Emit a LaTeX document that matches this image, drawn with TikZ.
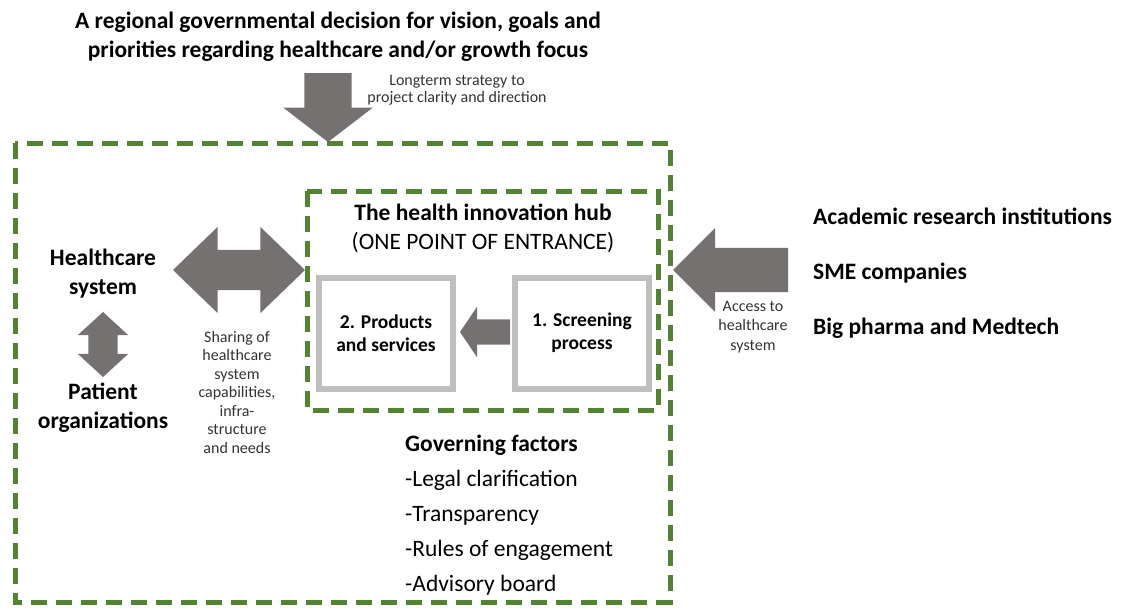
\documentclass[tikz,border=0pt]{standalone}
\usepackage{fontspec}
\setmainfont{Carlito}
\usetikzlibrary{shapes.arrows}
\definecolor{arrowgray}{HTML}{767171}
\definecolor{hubgreen}{HTML}{548235}
\definecolor{boxgray}{HTML}{BFBFBF}
\tikzset{
	bigbold/.style={font=\fontsize{23.5}{29}\selectfont\bfseries,align=center,inner sep=0pt},
	bigtext/.style={font=\fontsize{23.5}{29}\selectfont,align=center,inner sep=0pt},
	smalltext/.style={font=\fontsize{16}{18.5}\selectfont,align=center,inner sep=0pt,text=black!80},
	blockarrow/.style={fill=arrowgray,inner xsep=0pt,outer sep=0pt},
	hubdash/.style={draw=hubgreen,line width=5pt,dash pattern=on 16pt off 9pt},
	graybox/.style={draw=boxgray,line width=6pt,minimum width=134pt,minimum height=111pt,
		font=\fontsize{19.5}{23}\selectfont\bfseries,align=center}
}
\begin{document}
\begin{tikzpicture}[x=1pt,y=-1pt]
		\useasboundingbox (0,0) rectangle (1125,608);
		% dashed frames
		\draw[hubdash] (15,143) rectangle (670,602);
		\draw[hubdash] (307,191) rectangle (658,410);
		% title and strategy arrow
		\node (decision) at(338,37)[bigbold]{A regional governmental decision for vision, goals and\\priorities regarding healthcare and/or growth focus};
		\node (strategy) at(457,90)[smalltext,font=\fontsize{16}{17}\selectfont]{Longterm strategy to\\project clarity and direction};
		\node (down)[blockarrow,single arrow,rotate=-90,anchor=tip,inner ysep=23.5pt,minimum height=69pt,minimum width=89pt,
			single arrow head extend=21pt,single arrow tip angle=105] at(328,142){};
		% healthcare side
		\node (healthcare) at(103,274)[bigbold]{Healthcare\\system};
		\node (patients) at(103,408)[bigbold]{Patient\\organizations};
		\node (updown)[blockarrow,double arrow,rotate=90,inner ysep=14.5pt,minimum height=65pt,
			double arrow head extend=10.5pt,double arrow tip angle=95] at(103,344.5){};
		\node (share)[blockarrow,double arrow,inner ysep=20pt,minimum height=132pt,
			double arrow head extend=23pt,double arrow tip angle=88] at(239,270){};
		\node (sharing) at(237,392)[smalltext]{Sharing of\\healthcare\\system\\capabilities,\\infra-\\structure\\and needs};
		% hub
		\node (hub) at(483,228)[bigtext]{\textbf{The health innovation hub}\\(ONE POINT OF ENTRANCE)};
		\node (products) at(386,333)[graybox]{2. Products\\and services};
		\node (screening) at(582,333)[graybox]{1. Screening\\process};
		\node (next)[blockarrow,single arrow,rotate=180,anchor=tip,inner ysep=12.5pt,minimum height=50pt,
			single arrow head extend=12.5pt,single arrow tip angle=112] at(460,332){};
		% entrants
		\node (access)[blockarrow,single arrow,rotate=180,anchor=tip,inner ysep=22pt,minimum height=115pt,
			single arrow head extend=20pt,single arrow tip angle=90] at(673,270){};
		\node (accesstext) at(753,327)[smalltext,font=\fontsize{16}{19.5}\selectfont]{Access to\\healthcare\\system};
		\node (entrants) at(813,273)[bigbold,anchor=west,align=left,font=\fontsize{23.5}{55}\selectfont\bfseries]{Academic research institutions\\SME companies\\Big pharma and Medtech};
		% governing factors
		\node (governing) at(405,515)[bigtext,anchor=west,align=left,font=\fontsize{23.5}{35}\selectfont]{\textbf{Governing factors}\\-Legal clarification\\-Transparency\\-Rules of engagement\\-Advisory board};
	\end{tikzpicture}
\end{document}
